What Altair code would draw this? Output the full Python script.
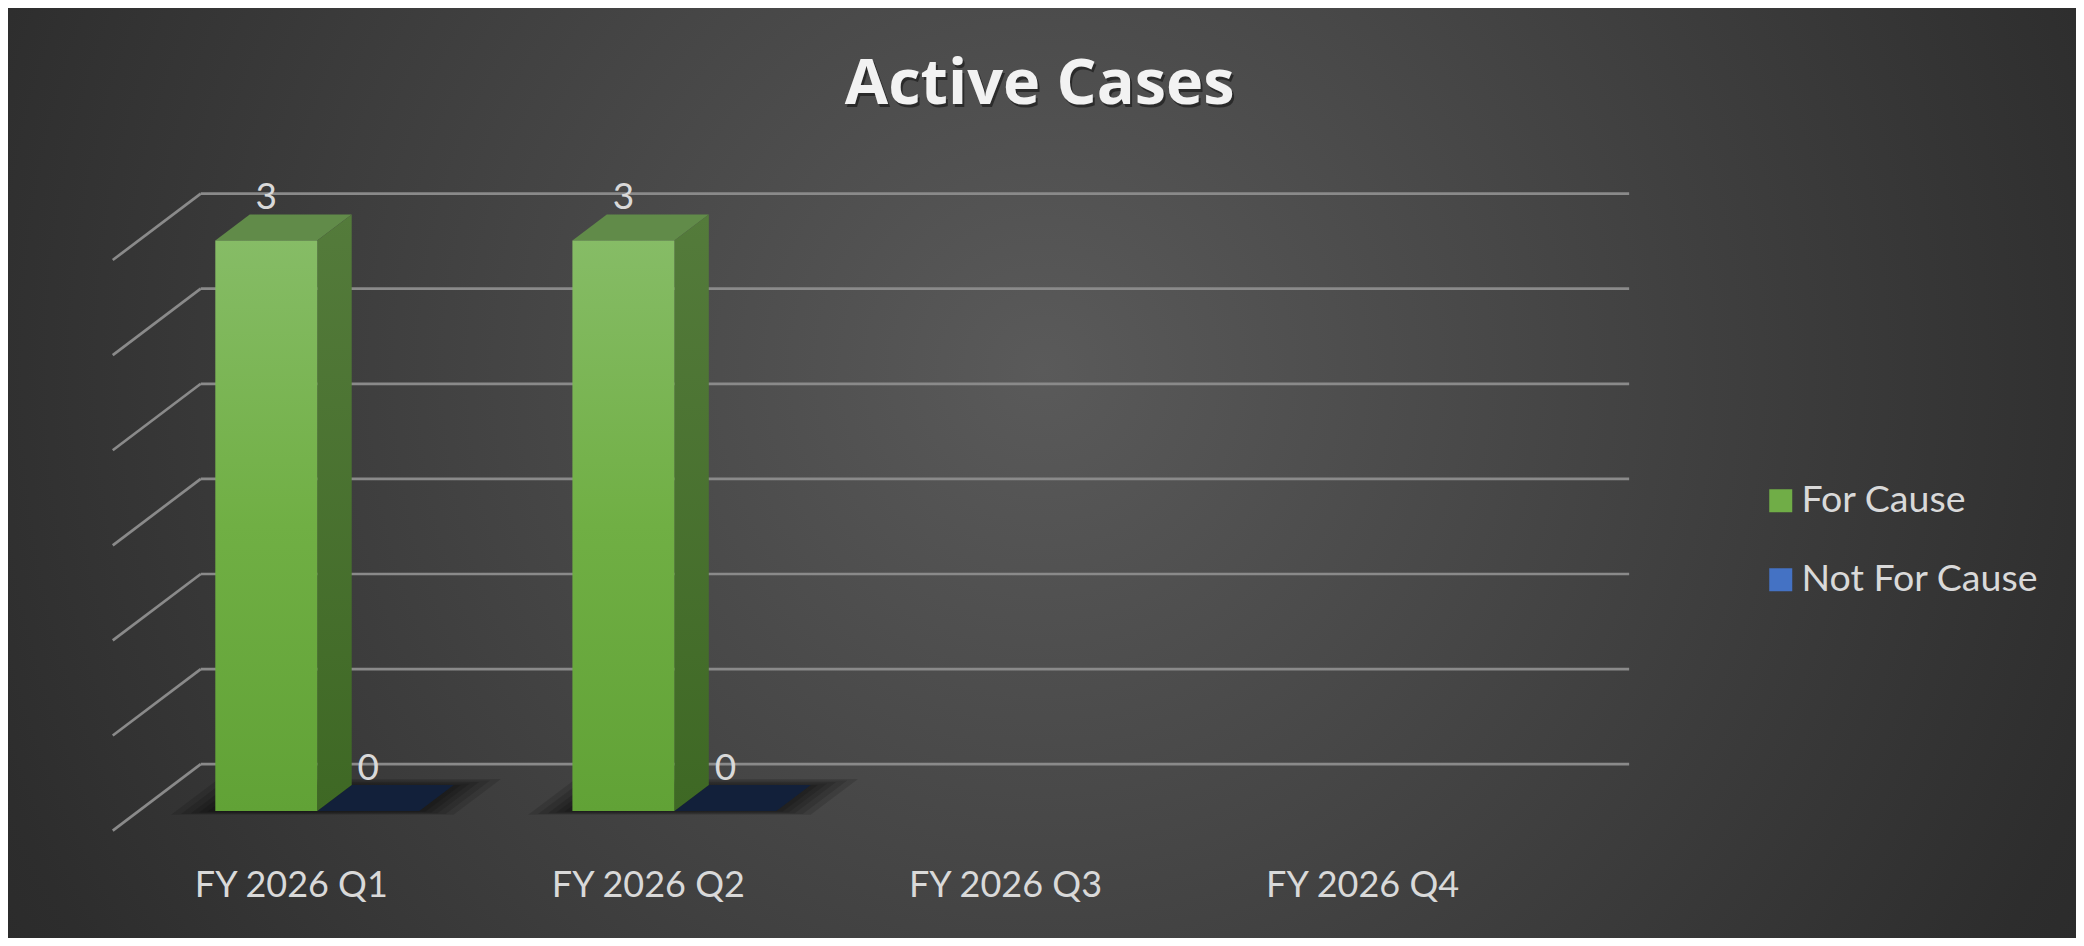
import altair as alt
import pandas as pd

# chart values
categories = ["FY 2026 Q1", "FY 2026 Q2", "FY 2026 Q3", "FY 2026 Q4"]
series = ["For Cause", "Not For Cause"]
for_cause = [3, 3, None, None]
not_for_cause = [0, 0, None, None]
grid_values = [0, 0.5, 1, 1.5, 2, 2.5, 3]

# canvas and fake 3D projection (oblique: depth moves right and up)
W, H = 2068, 930
ORIGIN_X, ORIGIN_Y = 309.3, 803  # pixel of category 0 / value 0 on bar front
PX_U = 357.1  # pixels per category
PX_V = 190.2  # pixels per value unit
SLOPE = 0.755
BAR_W = 0.2856
D_BAR = 34.4
D_WALL = 62
D_FRONT = -26
FONT = "Lato"
TEXT = "#d9d9d9"


def px(u, d):
    return u + d / PX_U


def py(v, d):
    return v + SLOPE * d / PX_V


x_scale = alt.Scale(domain=[-ORIGIN_X / PX_U, (W - ORIGIN_X) / PX_U], nice=False, zero=False)
y_scale = alt.Scale(domain=[-(H - ORIGIN_Y) / PX_V, ORIGIN_Y / PX_V], nice=False, zero=False)


def X(field):
    return alt.X(field, type="quantitative", scale=x_scale, axis=None)


def Y(field):
    return alt.Y(field, type="quantitative", scale=y_scale, axis=None)


def vgrad(top, bottom, mid=None):
    stops = [alt.GradientStop(color=top, offset=0)]
    if mid:
        stops.append(alt.GradientStop(color=mid, offset=0.5))
    stops.append(alt.GradientStop(color=bottom, offset=1))
    return alt.LinearGradient(gradient="linear", stops=stops, x1=0, x2=0, y1=0, y2=1)


styles = {
    "For Cause": dict(
        front=vgrad("#86bc66", "#61a236", "#70af44"),
        side=vgrad("#547b3b", "#3e6824"),
        top="#618b49",
    ),
    "Not For Cause": dict(
        front=vgrad("#5b86d6", "#2f5fb8"),
        side=vgrad("#2a4a86", "#1c3766"),
        top="#12203a",
    ),
}

# one row per drawn bar
rows = []
for i, cat in enumerate(categories):
    for j, (s, vals) in enumerate(zip(series, [for_cause, not_for_cause])):
        v = vals[i]
        if v is None:
            continue
        left = i - BAR_W + j * BAR_W
        rows.append(dict(category=cat, series=s, bar=f"{i}-{j}", value=v,
                         left=left, right=left + BAR_W, center=left + BAR_W / 2, base=0))
bars = pd.DataFrame(rows)

side_rows, top_rows = [], []
for r in rows:
    for d in (0, D_BAR):
        side_rows.append(dict(series=r["series"], bar=r["bar"], x=px(r["right"], d),
                              y=py(0, d), y2=py(r["value"], d)))
        top_rows.append(dict(series=r["series"], bar=r["bar"], y=py(r["value"], d),
                             x=px(r["left"], d), x2=px(r["right"], d)))
side = pd.DataFrame(side_rows)
top = pd.DataFrame(top_rows)

# soft floor shadow under each cluster (stacked translucent footprints)
shadow_rows = []
for i, cat in enumerate(categories):
    if for_cause[i] is None and not_for_cause[i] is None:
        continue
    steps = [(0.11, -5, 8), (0.085, -4, 6), (0.06, -3, 4), (0.04, -2, 2), (0.02, -1, 0)]
    for k, (eu, d0, d1) in enumerate(steps):
        for d in (d0, D_BAR + d1):
            shadow_rows.append(dict(bar=f"{i}-{k}", y=py(0, d),
                                    x=px(i - BAR_W - eu, d), x2=px(i + BAR_W + eu, d)))
shadow = pd.DataFrame(shadow_rows)

# walls: back gridlines and side-wall diagonals
grid_rows = []
for v in grid_values:
    grid_rows.append(dict(x=px(-0.5, D_FRONT), y=py(v, D_FRONT), x2=px(-0.5, D_WALL), y2=py(v, D_WALL)))
    grid_rows.append(dict(x=px(-0.5, D_WALL), y=py(v, D_WALL), x2=px(len(categories) - 0.5, D_WALL), y2=py(v, D_WALL)))
grid = pd.DataFrame(grid_rows)

labels = pd.DataFrame({"category": categories, "i": range(len(categories))})
labels["x"] = [px(i, D_FRONT) for i in labels["i"]]
labels["y"] = py(0, D_FRONT)

bars["lx"] = bars["center"]
bars["ly"] = [py(v, D_BAR) for v in bars["value"]]

background = alt.Chart(pd.DataFrame({"a": [0]})).mark_rect(
    color=alt.RadialGradient(
        gradient="radial",
        stops=[alt.GradientStop(color="#5a5a5a", offset=0),
               alt.GradientStop(color="#2d2d2d", offset=0.75),
               alt.GradientStop(color="#242424", offset=1)],
        x1=0.5, y1=0.45, r1=0, x2=0.5, y2=0.45, r2=0.72,
    )
).encode(x=alt.value(0), x2=alt.value(W), y=alt.value(0), y2=alt.value(H))

grid_lines = alt.Chart(grid).mark_rule(color="#8a8a8a", strokeWidth=2.7).encode(
    x=X("x"), x2="x2", y=Y("y"), y2="y2"
)

shadows = alt.Chart(shadow).mark_area(orient="horizontal", color="#000000", opacity=0.13).encode(
    y=Y("y"), x=X("x"), x2="x2", detail="bar:N"
)

layers = [background, grid_lines, shadows]
for s in series[::-1]:
    st = styles[s]
    layers.append(
        alt.Chart(top).transform_filter(alt.datum.series == s)
        .mark_area(orient="horizontal", color=st["top"])
        .encode(y=Y("y"), x=X("x"), x2="x2", detail="bar:N")
    )
    layers.append(
        alt.Chart(side).transform_filter(alt.datum.series == s)
        .mark_area(orient="vertical", color=st["side"])
        .encode(x=X("x"), y=Y("y"), y2="y2", detail="bar:N")
    )
    layers.append(
        alt.Chart(bars).transform_filter((alt.datum.series == s) & (alt.datum.value > 0))
        .mark_rect(color=st["front"])
        .encode(x=X("left"), x2="right", y=Y("base"), y2="value")
    )

value_text = alt.Chart(bars).mark_text(
    font=FONT, fontSize=37, color=TEXT, baseline="alphabetic", dy=-5
).encode(x=X("lx"), y=Y("ly"), text=alt.Text("value:Q", format="d"))

axis_text = alt.Chart(labels).mark_text(
    font=FONT, fontSize=36, color=TEXT, baseline="alphabetic", dy=66.7
).encode(x=X("x"), y=Y("y"), text="category:N")

title_df = pd.DataFrame({"title": ["Active Cases"]})
title_shadow = alt.Chart(title_df).mark_text(
    font="Open Sans", fontSize=63, fontWeight="bold", color="#000000", opacity=0.45,
    baseline="alphabetic", dx=2, dy=3
).encode(x=alt.value(1031.7), y=alt.value(96), text="title:N")
title_text = alt.Chart(title_df).mark_text(
    font="Open Sans", fontSize=63, fontWeight="bold", color="#f2f2f2", baseline="alphabetic"
).encode(x=alt.value(1031.7), y=alt.value(96), text="title:N")

legend_layer = alt.Chart(pd.DataFrame({"series": series})).mark_square(opacity=0).encode(
    x=alt.value(0),
    y=alt.value(0),
    color=alt.Color(
        "series:N",
        scale=alt.Scale(domain=series, range=["#70ad47", "#4472c4"]),
        legend=alt.Legend(
            orient="none", legendX=1754, legendY=474, title=None, padding=0,
            labelFont=FONT, labelFontSize=37.5, labelColor=TEXT, labelLimit=400,
            labelOffset=2, symbolType="square", symbolSize=529, symbolOpacity=1,
            symbolStrokeWidth=0, rowPadding=40,
        ),
    ),
)

layers += [value_text, axis_text, title_shadow, title_text, legend_layer]

chart = alt.layer(*layers).properties(
    width=W,
    height=H,
    padding=0,
    background="#2b2b2b",
    autosize=alt.AutoSizeParams(type="none"),
).configure_view(strokeWidth=0)

chart.save("out.html", embed_options={"renderer": "svg", "actions": False})
